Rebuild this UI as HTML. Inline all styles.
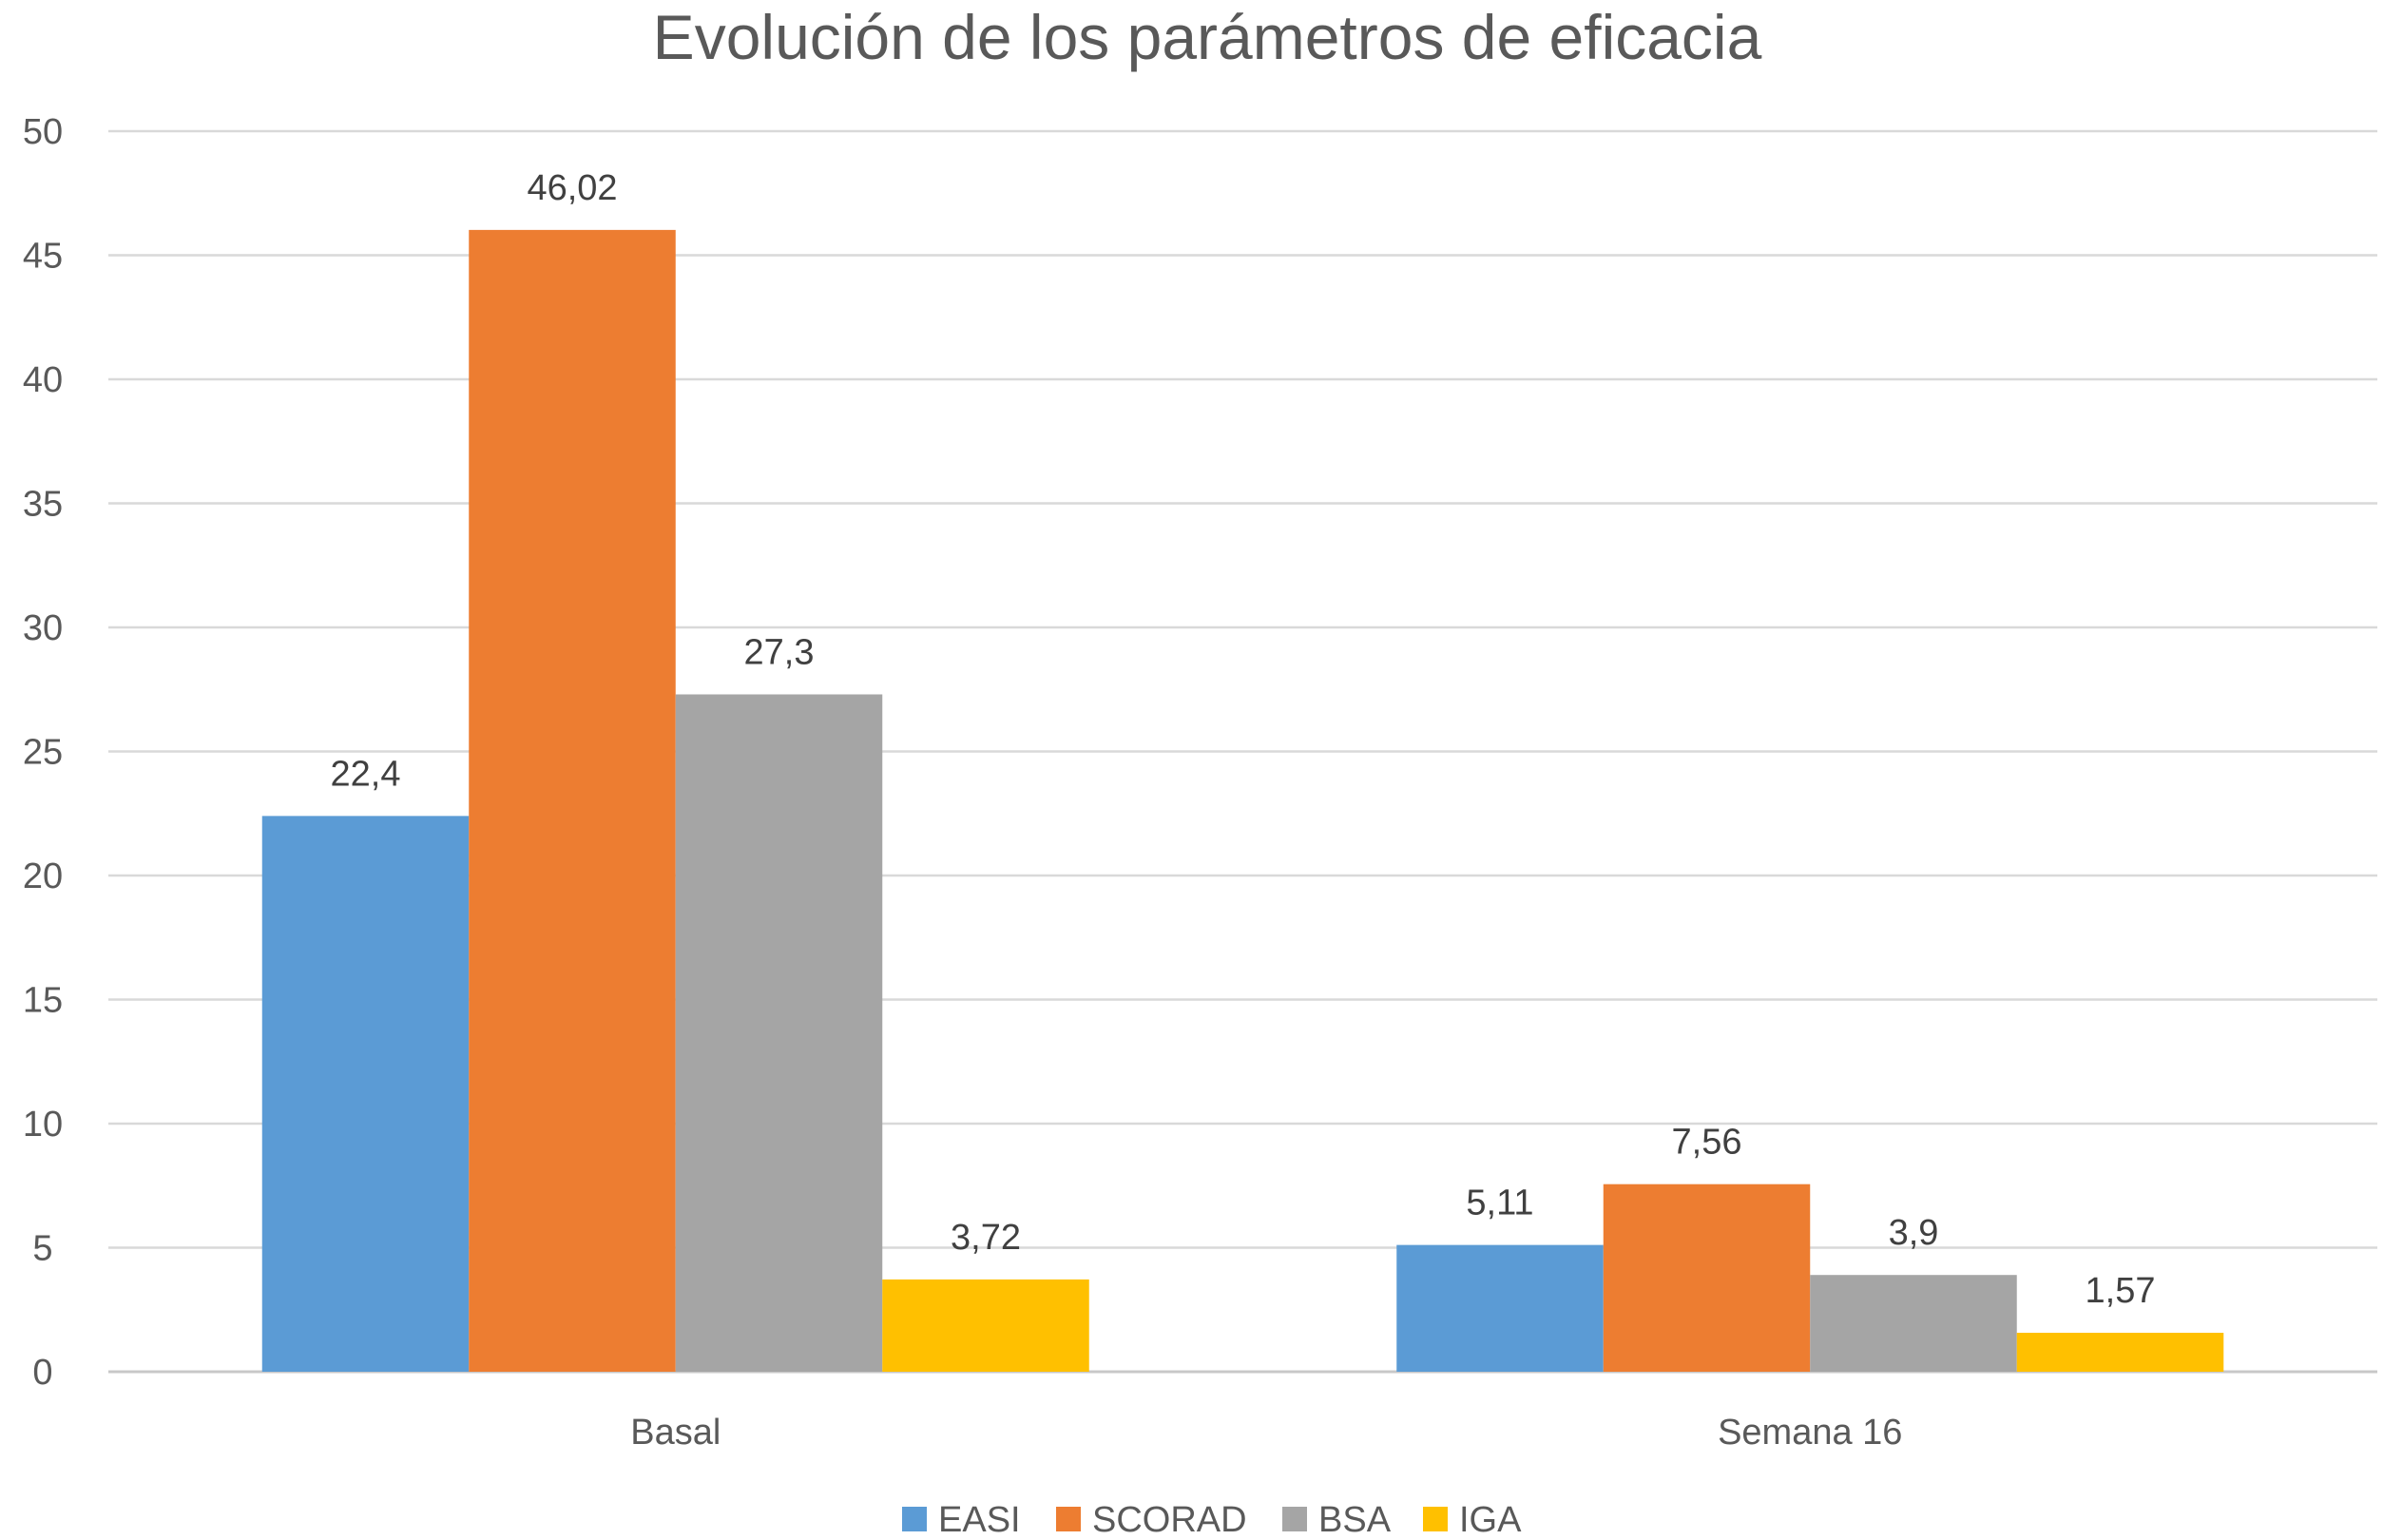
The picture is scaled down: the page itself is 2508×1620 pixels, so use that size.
<!DOCTYPE html>
<html><head><meta charset="utf-8"><style>
body{margin:0;background:#fff;}
svg{display:block;font-family:"Liberation Sans",sans-serif;}
</style></head><body>
<svg id="chart" width="2508" height="1620">
<text x="1270" y="62" text-anchor="middle" font-size="66" fill="#595959">Evolución de los parámetros de eficacia</text>
<g id="grid"></g><g id="bars"></g><g id="labels"></g>
<g id="legend"></g>
</svg>
<script>
const categories=["Basal","Semana 16"];
const seriesNames=["EASI","SCORAD","BSA","IGA"];
const easi=[22.4,5.11];
const scorad=[46.02,7.56];
const bsa=[27.3,3.9];
const iga=[3.72,1.57];
const valueLabels=[["22,4","5,11"],["46,02","7,56"],["27,3","3,9"],["3,72","1,57"]];
const yTicks=[0,5,10,15,20,25,30,35,40,45,50];
const colors=["#5b9bd5","#ed7d31","#a5a5a5","#ffc000"];
const series=[easi,scorad,bsa,iga];
const NS="http://www.w3.org/2000/svg";
const L=114,R=2501,T=138,B=1443,yMax=50;
const y=v=>B-(v/yMax)*(B-T);
const catW=(R-L)/categories.length;
const barW=217.5;
const groupStart=i=>L+i*catW+(catW-barW*series.length)/2;
function mk(tag,attrs,parent){const e=document.createElementNS(NS,tag);for(const k in attrs)e.setAttribute(k,attrs[k]);parent.appendChild(e);return e;}
const grid=document.getElementById('grid'),bars=document.getElementById('bars'),labels=document.getElementById('labels'),legend=document.getElementById('legend');
yTicks.forEach(t=>{
 const ln=mk('line',{x1:L,x2:R,y1:y(t),y2:y(t),stroke:t===0?'#c8c8c8':'#d9d9d9','stroke-width':t===0?3:2.5},grid);
 
 
 const tx=mk('text',{x:45,y:y(t)+13,'text-anchor':'middle','font-size':38,fill:'#595959'},grid);
 tx.textContent=t;
 
 
});
series.forEach((s,si)=>{
 s.forEach((v,ci)=>{
  const x=groupStart(ci)+si*barW;
  const r=mk('rect',{x:x,y:y(v),width:barW,height:B-y(v),fill:colors[si]},bars);
  
  
  const t=mk('text',{x:x+barW/2,y:y(v)-32,'text-anchor':'middle','font-size':38,fill:'#404040'},labels);
  t.textContent=valueLabels[si][ci];
  
  
 });
});
categories.forEach((c,ci)=>{
 const t=mk('text',{x:L+ci*catW+catW/2,y:1519,'text-anchor':'middle','font-size':38,fill:'#595959'},labels);
 t.textContent=c;
 
 
});
const legX=[949,1111,1349,1497];
seriesNames.forEach((n,i)=>{
 const r=mk('rect',{x:legX[i],y:1585,width:26,height:26,fill:colors[i]},legend);
 
 
 const t=mk('text',{x:legX[i]+38,y:1611,'font-size':38,fill:'#595959'},legend);
 t.textContent=n;
 
 
});
</script>
</body></html>
